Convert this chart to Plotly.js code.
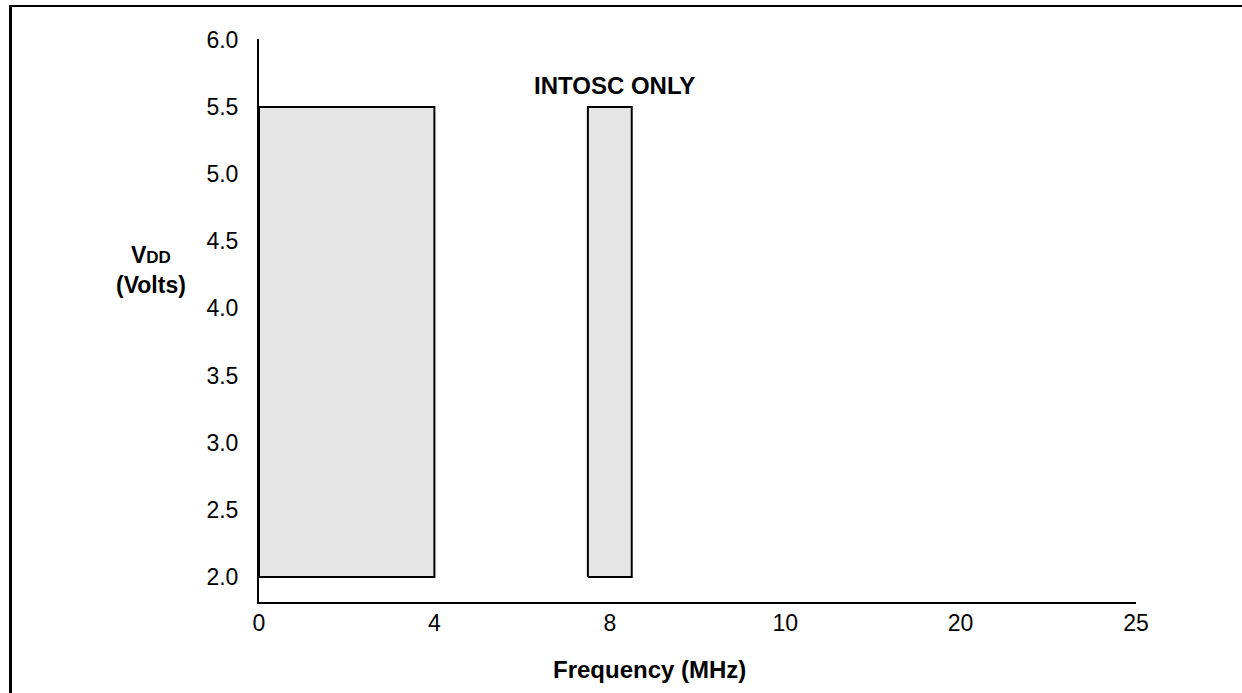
<!DOCTYPE html>
<html>
<head>
<meta charset="utf-8">
<script src="https://cdn.plot.ly/plotly-3.0.1.min.js"></script>
<style>
  html, body { margin: 0; padding: 0; background: #fff; }
  #wrap { position: relative; width: 1242px; height: 693px; overflow: hidden; }
  #frame { position: absolute; left: 9px; top: 5px; width: 1240px; height: 700px;
           border-left: 3px solid #000; border-top: 2px solid #000; pointer-events: none; }
  #chart { position: absolute; left: 0; top: 0; width: 1242px; height: 693px; }
</style>
</head>
<body>
<div id="wrap">
  <div id="chart"></div>
  <div id="frame"></div>
</div>
<script>
// Frequency tick labels (evenly spaced, non-linear scale)
const freqTicks = [0, 4, 8, 10, 20, 25];
// Operating regions: frequency (MHz) and VDD (V)
const regionNames = ["Standard", "INTOSC ONLY"];
const regionFreqMin = [0, 7.5];
const regionFreqMax = [4, 8.25];
const regionVddMin = [2.0, 2.0];
const regionVddMax = [5.5, 5.5];
const vddTicks = [2.0, 2.5, 3.0, 3.5, 4.0, 4.5, 5.0, 5.5, 6.0];

// Piecewise-linear scale: frequency -> evenly spaced tick index
function fpos(f) {
  for (let i = 0; i < freqTicks.length - 1; i++) {
    const a = freqTicks[i], b = freqTicks[i + 1];
    if (f <= b || i === freqTicks.length - 2) return i + (f - a) / (b - a);
  }
}

const traces = regionNames.map((n, i) => {
  const x0 = fpos(regionFreqMin[i]), x1 = fpos(regionFreqMax[i]);
  const y0 = regionVddMin[i], y1 = regionVddMax[i];
  return {
    type: 'scatter', mode: 'lines', name: n,
    x: [x0, x1, x1, x0, x0], y: [y0, y0, y1, y1, y0],
    fill: 'toself', fillcolor: '#e6e6e6',
    line: { color: '#000', width: 2 }, hoverinfo: 'skip', showlegend: false
  };
});

const font = { family: 'Liberation Sans, Arial, sans-serif', color: '#000' };
const layout = {
  width: 1242, height: 693,
  margin: { l: 259, r: 106, t: 39, b: 91, pad: 0 },
  paper_bgcolor: '#fff', plot_bgcolor: '#fff',
  showlegend: false,
  xaxis: {
    range: [0, 5], tickmode: 'array',
    tickvals: freqTicks.map(fpos), ticktext: freqTicks.map(String),
    showgrid: false, zeroline: false, showline: true, linecolor: '#000', linewidth: 2,
    ticks: '', ticklabelstandoff: -1,
    tickfont: Object.assign({ size: 23 }, font), fixedrange: true
  },
  yaxis: {
    range: [1.814, 6.006], tickmode: 'array',
    tickvals: vddTicks, ticktext: vddTicks.map(v => v.toFixed(1)),
    showgrid: false, zeroline: false, showline: true, linecolor: '#000', linewidth: 2,
    ticks: '', ticklabelstandoff: 14,
    tickfont: Object.assign({ size: 23 }, font), fixedrange: true
  },
  annotations: [
    { xref: 'paper', yref: 'paper', x: (614 - 259) / 877, y: (602 - 85) / 563, text: '<b>INTOSC ONLY</b>',
      showarrow: false, font: Object.assign({ size: 24 }, font), xanchor: 'center', yanchor: 'middle' },
    { xref: 'paper', yref: 'paper', x: (151 - 259) / 877, y: (602 - 270) / 563,
      text: '<b>V<span style="font-size:17px">DD</span></b><br><b>(Volts)</b>',
      showarrow: false, font: Object.assign({ size: 23 }, font), xanchor: 'center', yanchor: 'middle' },
    { xref: 'paper', yref: 'paper', x: (649 - 259) / 877, y: -(669 - 602) / 563,
      text: '<b>Frequency (MHz)</b>',
      showarrow: false, font: Object.assign({ size: 24 }, font), xanchor: 'center', yanchor: 'middle' }
  ]
};

Plotly.newPlot('chart', traces, layout, { displayModeBar: false, staticPlot: true });
</script>
</body>
</html>
